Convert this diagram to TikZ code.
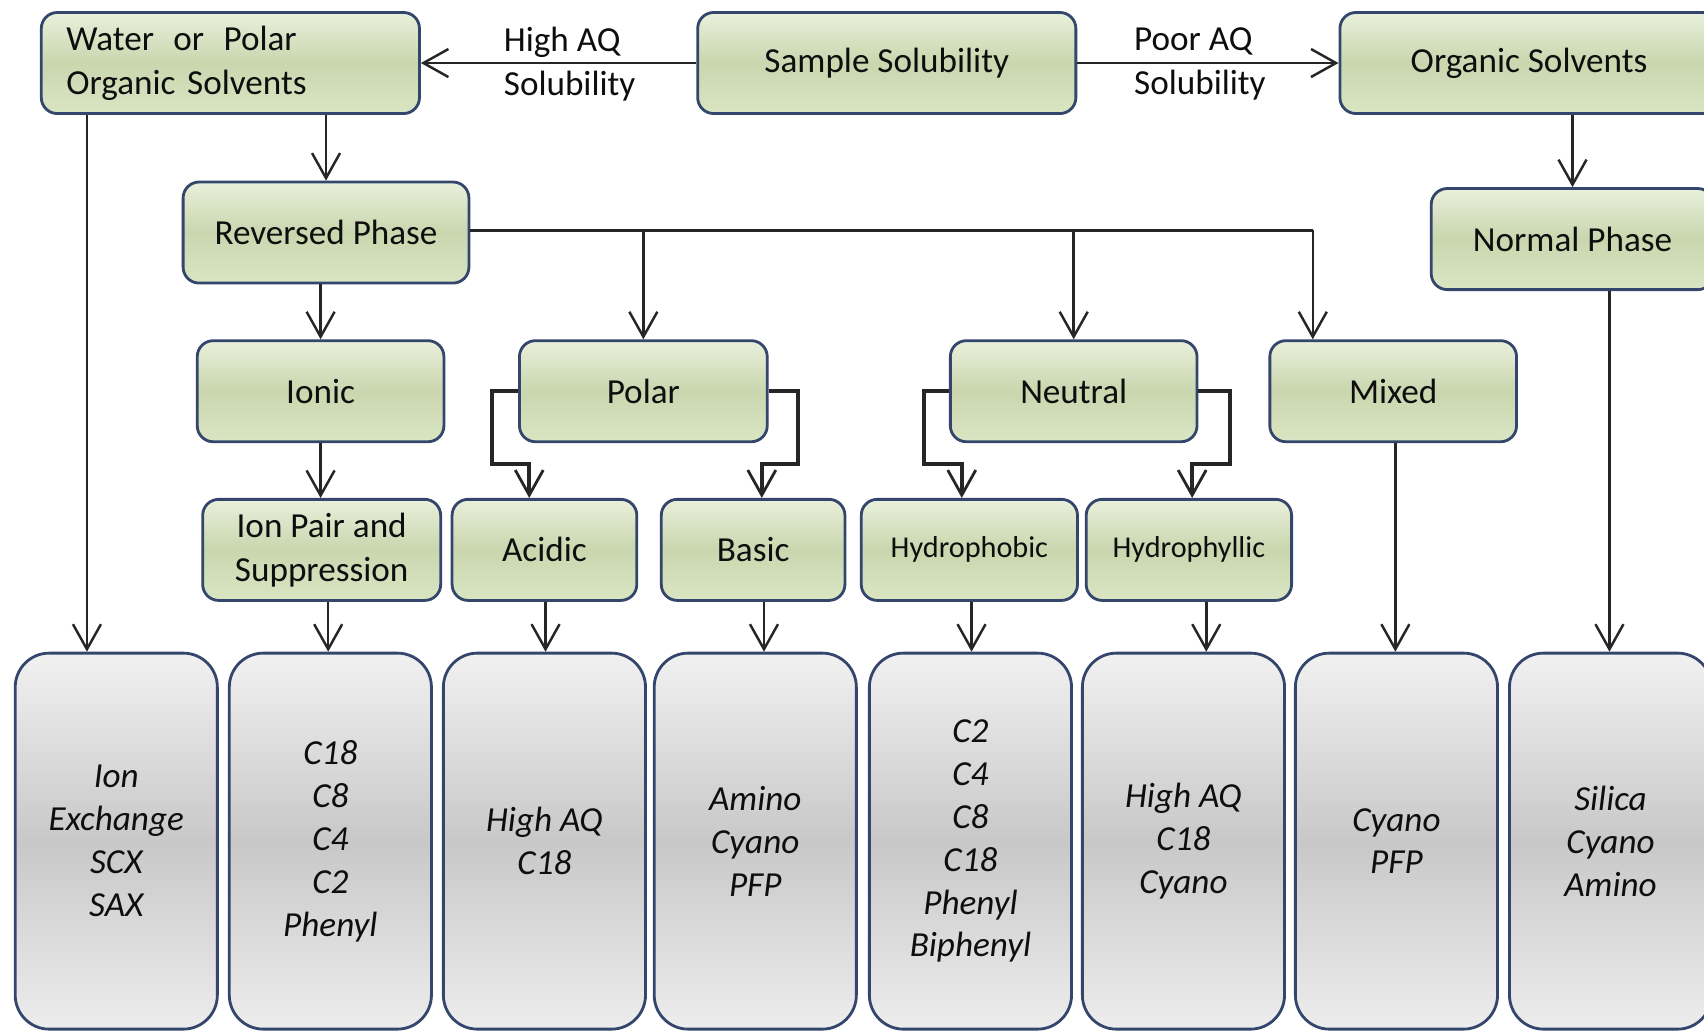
\documentclass[tikz,border=0pt]{standalone}
\usepackage{fontspec}
\setmainfont{Carlito}
\usetikzlibrary{arrows.meta}
\definecolor{gtop}{HTML}{E9F0DB}
\definecolor{gmid}{HTML}{C9D6AE}
\definecolor{gbot}{HTML}{DAE6C3}
\definecolor{ctop}{HTML}{F1F1F1}
\definecolor{cmid}{HTML}{C8C8C8}
\definecolor{cbot}{HTML}{EDEDED}
\definecolor{bordc}{HTML}{34466C}
\definecolor{txtc}{HTML}{0E0E0E}
\newcommand\myu{0.010867cm}
\tikzset{
  gbox/.style={draw=bordc, line width=0.8pt, rounded corners=0.16cm,
    top color=gtop, bottom color=gbot, middle color=gmid,
    align=center, text=txtc, inner sep=0pt, minimum height=93*\myu,
    font=\fontsize{10}{12.4}\selectfont},
  cbox/.style={draw=bordc, line width=0.8pt, rounded corners=0.34cm,
    top color=ctop, bottom color=cbot, middle color=cmid,
    align=center, text=txtc, inner sep=0pt,
    minimum width=186*\myu, minimum height=346*\myu,
    font=\fontsize{10}{12.2}\selectfont\itshape},
  arr/.style={-{Straight Barb[length=2.5mm,width=2.8mm]}, line width=0.7pt, draw=black!85},
  elb/.style={-{Straight Barb[length=2.5mm,width=2.8mm,line width=0.8pt]}, line width=1.05pt, draw=black!85},
  lnk/.style={line width=0.7pt, draw=black!85},
  lbl/.style={anchor=west, align=left, inner sep=0pt, text=txtc,
    font=\fontsize{10}{12.4}\selectfont}
}
\begin{document}
\begin{tikzpicture}[x=0.010867cm, y=-0.010867cm]
\useasboundingbox (0,0) rectangle (1568,949);
\clip (0,0) rectangle (1568,949);
\fill[white] (0,0) rectangle (1568,949);

% top row
\node[gbox, minimum width=348*\myu, text width=302*\myu, align=left] (water) at (212,58)
  {Water\hspace{0.55em}or\hspace{0.55em}Polar\\Organic Solvents};
\node[gbox, minimum width=348*\myu] (sample) at (816,58) {Sample Solubility};
\node[gbox, minimum width=348*\myu] (organic) at (1407,58) {Organic Solvents};

% second row
\node[gbox, minimum width=263*\myu] (reversed) at (300,214) {Reversed Phase};
\node[gbox, minimum width=260*\myu] (normal) at (1447,220) {Normal Phase};

% third row
\node[gbox, minimum width=227*\myu] (ionic) at (295,360) {Ionic};
\node[gbox, minimum width=228*\myu] (polar) at (592,360) {Polar};
\node[gbox, minimum width=227*\myu] (neutral) at (988,360) {Neutral};
\node[gbox, minimum width=227*\myu] (mixed) at (1282,360) {Mixed};

% fourth row
\node[gbox, minimum width=219*\myu] (ionpair) at (296,506) {Ion Pair and\\Suppression};
\node[gbox, minimum width=170*\myu] (acidic) at (501,506) {Acidic};
\node[gbox, minimum width=169*\myu] (basic) at (693,506) {Basic};
\node[gbox, minimum width=199*\myu, font=\fontsize{8.6}{10.5}\selectfont] (hphob) at (892,506) {Hydrophobic};
\node[gbox, minimum width=189*\myu, font=\fontsize{8.6}{10.5}\selectfont] (hphil) at (1094,506) {Hydrophyllic};

% bottom row
\node[cbox] (b1) at (107,774) {Ion\\Exchange\\SCX\\SAX};
\node[cbox] (b2) at (304,774) {C18\\C8\\C4\\C2\\Phenyl};
\node[cbox] (b3) at (501,774) {High AQ\\C18};
\node[cbox] (b4) at (695,774) {Amino\\Cyano\\PFP};
\node[cbox] (b5) at (893,774) {C2\\C4\\C8\\C18\\Phenyl\\Biphenyl};
\node[cbox] (b6) at (1089,774) {High AQ\\C18\\Cyano};
\node[cbox] (b7) at (1285,774) {Cyano\\PFP};
\node[cbox] (b8) at (1482,774) {Silica\\Cyano\\Amino};

% labels
\node[lbl] (lhigh) at (463,59) {High AQ\\Solubility};
\node[lbl] (lpoor) at (1043,59) {Poor AQ\\Solubility};

% helper coordinates
\coordinate (xA) at (80,0);
\coordinate (xM) at (1208,0);
\coordinate (hy) at (0,212);
\coordinate (jy) at (0,427);
\coordinate (aL) at (487,0);
\coordinate (bR) at (701,0);
\coordinate (hL) at (885,0);
\coordinate (hR) at (1097,0);
\coordinate (x2) at (302,0);
\coordinate (x3) at (502,0);
\coordinate (x4) at (703,0);
\coordinate (x5) at (894,0);
\coordinate (x6) at (1110,0);
\coordinate (x7) at (1284,0);
\coordinate (x8) at (1481,0);

% top connectors
\draw[arr] (sample.west) -- (water.east);
\draw[arr] (sample.east) -- (organic.west);
\draw[arr] (reversed.north |- water.south) -- (reversed.north);
\draw[arr] (water.south -| xA) -- (b1.north -| xA);
\draw[arr] (normal.north |- organic.south) -- (normal.north);
\draw[arr] (normal.south -| x8) -- (b8.north -| x8);

% reversed phase branches
\draw[arr] (ionic.north |- reversed.south) -- (ionic.north);
\draw[lnk] (reversed.east |- hy) -- (xM |- hy);
\draw[arr] (polar.north |- hy) -- (polar.north);
\draw[arr] (neutral.north |- hy) -- (neutral.north);
\draw[arr] (xM |- hy) -- (xM |- mixed.north);

% third row to fourth row
\draw[arr] (ionic.south) -- (ionic.south |- ionpair.north);
\draw[elb] (polar.west) -- ++(-24,0) |- (aL |- jy) -- (aL |- acidic.north);
\draw[elb] (polar.east) -- ++(27,0) |- (bR |- jy) -- (bR |- basic.north);
\draw[elb] (neutral.west) -- ++(-23,0) |- (hL |- jy) -- (hL |- hphob.north);
\draw[elb] (neutral.east) -- ++(29,0) |- (hR |- jy) -- (hR |- hphil.north);

% to bottom boxes
\draw[arr] (ionpair.south -| x2) -- (b2.north -| x2);
\draw[arr] (acidic.south -| x3) -- (b3.north -| x3);
\draw[arr] (basic.south -| x4) -- (b4.north -| x4);
\draw[arr] (hphob.south -| x5) -- (b5.north -| x5);
\draw[arr] (hphil.south -| x6) -- (b6.north -| x6);
\draw[arr] (mixed.south -| x7) -- (b7.north -| x7);
\end{tikzpicture}
\end{document}
